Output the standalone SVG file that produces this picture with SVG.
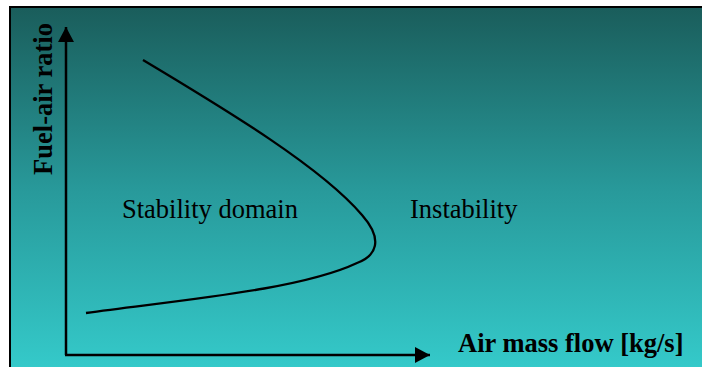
<svg xmlns="http://www.w3.org/2000/svg" width="702" height="367" viewBox="0 0 702 367">
  <defs>
    <linearGradient id="bg" x1="0" y1="0" x2="0" y2="1">
      <stop offset="0" stop-color="#1a5d5b"/>
      <stop offset="0.5" stop-color="#289a9b"/>
      <stop offset="1" stop-color="#35cccc"/>
    </linearGradient>
    <marker id="arrow" viewBox="0 0 15 16" refX="15" refY="8" markerWidth="15" markerHeight="16" markerUnits="userSpaceOnUse" orient="auto">
      <path d="M0,0 L15,8 L0,16 Z" fill="#000"/>
    </marker>
  </defs>
  <style>
    .axis { stroke: #000; stroke-width: 2.5; fill: none; }
    .curve { stroke: #000; stroke-width: 2.3; fill: none; }
    .label { font-family: "Liberation Serif", "Times New Roman", serif; font-size: 26.5px; fill: #000; }
    .bold { font-weight: bold; }
  </style>

  <rect x="0" y="0" width="702" height="367" fill="#fff"/>
  <rect x="10" y="7" width="700" height="370" fill="url(#bg)" stroke="#000" stroke-width="2"/>

  <g id="connectors">
    <path id="y-axis" class="axis" d="M66,355 L66,27" marker-end="url(#arrow)"/>
    <path id="x-axis" class="axis" d="M65,355 L430,355" marker-end="url(#arrow)"/>
    <path id="stability-boundary" class="curve" d="M143,60 C230,112 322,168 362,215 C384,240 376,256 357,263 C300,290 180,300 86,313"/>
  </g>

  <g id="y-label">
    <text class="label bold" x="52" y="99" text-anchor="middle" transform="rotate(-90 52 99)">Fuel-air ratio</text>
  </g>
  <g id="x-label">
    <text class="label bold" x="458" y="352">Air mass flow [kg/s]</text>
  </g>
  <g id="stable-region">
    <text class="label" x="122" y="218">Stability domain</text>
  </g>
  <g id="unstable-region">
    <text class="label" x="410" y="218">Instability</text>
  </g>
</svg>
